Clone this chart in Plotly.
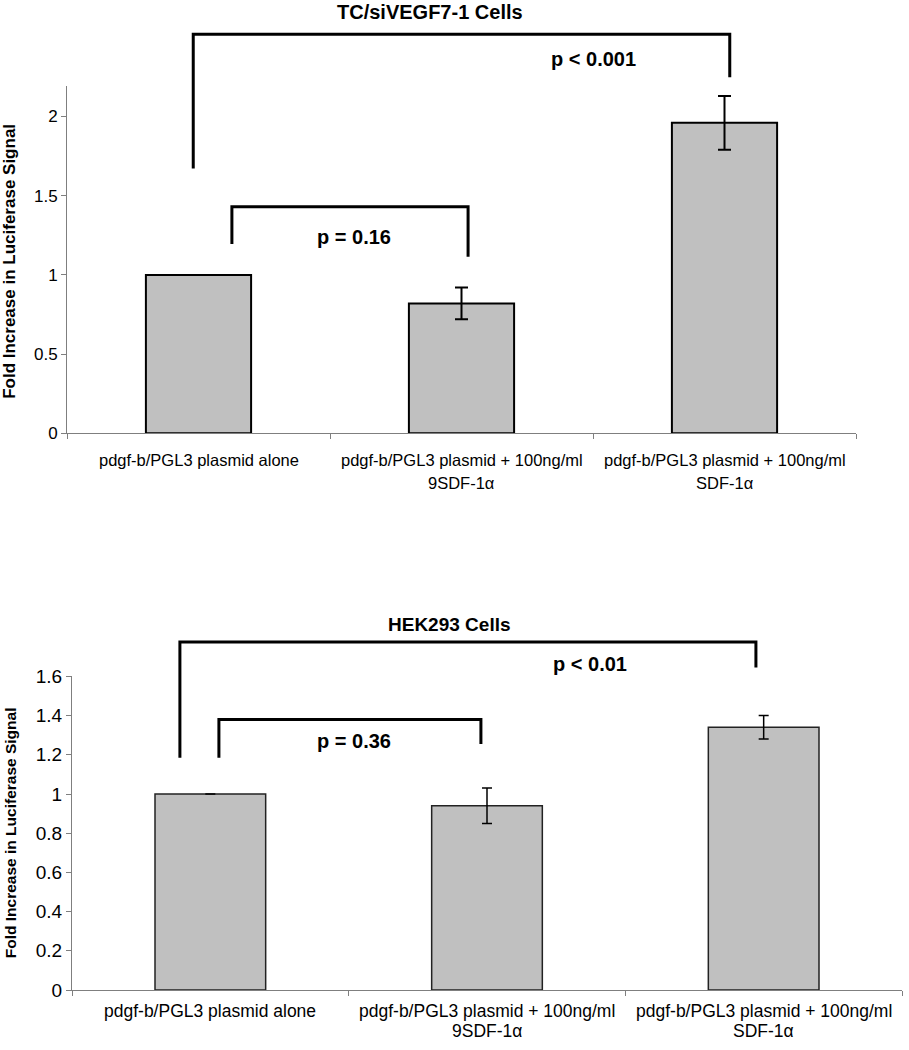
import plotly.graph_objects as go

# ---------------- data ----------------
cat_ids = ["c0", "c1", "c2"]
cat_line1 = ["pdgf-b/PGL3 plasmid alone",
             "pdgf-b/PGL3 plasmid + 100ng/ml",
             "pdgf-b/PGL3 plasmid + 100ng/ml"]
cat_line2 = ["", "9SDF-1α", "SDF-1α"]

top_values = [1.00, 0.82, 1.96]
top_errors = [0.0, 0.10, 0.17]
bottom_values = [1.00, 0.94, 1.34]
bottom_errors = [0.0, 0.09, 0.06]

top_ticks = [0, 0.5, 1, 1.5, 2]
top_ticktext = ["0", "0.5", "1", "1.5", "2"]
bottom_ticks = [0, 0.2, 0.4, 0.6, 0.8, 1.0, 1.2, 1.4, 1.6]
bottom_ticktext = ["0", "0.2", "0.4", "0.6", "0.8", "1", "1.2", "1.4", "1.6"]

top_title = "TC/siVEGF7-1 Cells"
bottom_title = "HEK293 Cells"
ytitle = "Fold Increase in Luciferase Signal"

# significance brackets: (x_left, x_right, y_bar, y_left_end, y_right_end) in category/data units
top_brackets = [(-0.02, 2.02, 2.52, 1.672, 2.248),
                (0.127, 1.025, 1.43, 1.195, 1.115)]
top_pvals = [("p < 0.001", 1.50, 2.365), ("p = 0.16", 0.59, 1.238)]
bottom_brackets = [(-0.11, 1.972, 1.775, 1.185, 1.645),
                   (0.031, 0.978, 1.38, 1.185, 1.255)]
bottom_pvals = [("p < 0.01", 1.372, 1.665), ("p = 0.36", 0.519, 1.27)]

# ---------------- layout geometry ----------------
W, H = 909, 1050
top_xdom = [67 / W, 856 / W]
top_ydom = [1 - 432 / H, 1 - 78 / H]
top_yrange = [0, 2.19]
bot_xdom = [72 / W, 902 / W]
bot_ydom = [1 - 1000 / H, 1 - 680 / H]
bot_yrange = [0, 1.6]


def to_paper(xc, yv, xdom, ydom, yr):
    px = xdom[0] + (xc + 0.5) / 3.0 * (xdom[1] - xdom[0])
    py = ydom[0] + (yv - yr[0]) / (yr[1] - yr[0]) * (ydom[1] - ydom[0])
    return px, py


fig = go.Figure()

fig.add_trace(go.Bar(
    x=cat_ids, y=top_values, width=0.4,
    marker=dict(color="#C0C0C0", line=dict(color="black", width=2)),
    error_y=dict(type="data", array=top_errors, color="black", thickness=2, width=6.5),
    xaxis="x", yaxis="y", showlegend=False, hoverinfo="skip"))

fig.add_trace(go.Bar(
    x=cat_ids, y=bottom_values, width=0.4,
    marker=dict(color="#C0C0C0", line=dict(color="#222222", width=1.5)),
    error_y=dict(type="data", array=bottom_errors, color="black", thickness=1.5, width=5),
    xaxis="x2", yaxis="y2", showlegend=False, hoverinfo="skip"))

axis_common = dict(showline=True, linecolor="#7f7f7f", linewidth=1, showgrid=False,
                   zeroline=False, ticks="outside", tickcolor="#7f7f7f", ticklen=5)

fig.update_layout(
    width=W, height=H, margin=dict(l=0, r=0, t=0, b=0),
    paper_bgcolor="white", plot_bgcolor="white",
    font=dict(family="Liberation Sans, Arial, sans-serif", color="black"),
    xaxis=dict(domain=top_xdom, anchor="y", type="category", range=[-0.5, 2.5],
               tickvals=cat_ids, tickson="boundaries", showticklabels=False, **axis_common),
    yaxis=dict(domain=top_ydom, anchor="x", range=top_yrange,
               tickvals=top_ticks, ticktext=top_ticktext,
               tickfont=dict(size=17), **axis_common),
    xaxis2=dict(domain=bot_xdom, anchor="y2", type="category", range=[-0.5, 2.5],
                tickvals=cat_ids, tickson="boundaries", showticklabels=False, **axis_common),
    yaxis2=dict(domain=bot_ydom, anchor="x2", range=bot_yrange,
                tickvals=bottom_ticks, ticktext=bottom_ticktext,
                tickfont=dict(size=19), **axis_common),
)

shapes = []
annotations = []


def add_brackets(brackets, xdom, ydom, yr):
    for (xl, xr, yb, yle, yre) in brackets:
        x0, y0 = to_paper(xl, yle, xdom, ydom, yr)
        _, yt = to_paper(xl, yb, xdom, ydom, yr)
        x1, y1 = to_paper(xr, yre, xdom, ydom, yr)
        path = f"M {x0} {y0} L {x0} {yt} L {x1} {yt} L {x1} {y1}"
        shapes.append(dict(type="path", path=path, xref="paper", yref="paper",
                           line=dict(color="black", width=3)))


def add_pvals(pvals, xdom, ydom, yr):
    for (txt, xc, yv) in pvals:
        px, py = to_paper(xc, yv, xdom, ydom, yr)
        annotations.append(dict(text=f"<b>{txt}</b>", x=px, y=py, xref="paper", yref="paper",
                                showarrow=False, xanchor="center", yanchor="middle",
                                font=dict(size=20)))


def add_catlabels(xref, y1px, y2px, size):
    for cid, l1, l2 in zip(cat_ids, cat_line1, cat_line2):
        annotations.append(dict(text=l1, x=cid, y=1 - y1px / H, xref=xref, yref="paper",
                                showarrow=False, xanchor="center", yanchor="middle",
                                font=dict(size=size)))
        if l2:
            annotations.append(dict(text=l2, x=cid, y=1 - y2px / H, xref=xref, yref="paper",
                                    showarrow=False, xanchor="center", yanchor="middle",
                                    font=dict(size=size)))


add_brackets(top_brackets, top_xdom, top_ydom, top_yrange)
add_brackets(bottom_brackets, bot_xdom, bot_ydom, bot_yrange)
add_pvals(top_pvals, top_xdom, top_ydom, top_yrange)
add_pvals(bottom_pvals, bot_xdom, bot_ydom, bot_yrange)
add_catlabels("x", 459, 483, 16.5)
add_catlabels("x2", 1021, 1042, 17.5)

# chart titles
tx, ty = to_paper(0.88, 2.66, top_xdom, top_ydom, top_yrange)
annotations.append(dict(text=f"<b>{top_title}</b>", x=tx, y=ty, xref="paper", yref="paper",
                        showarrow=False, xanchor="center", yanchor="middle",
                        font=dict(size=20)))
bx, by = to_paper(0.866, 1.865, bot_xdom, bot_ydom, bot_yrange)
annotations.append(dict(text=f"<b>{bottom_title}</b>", x=bx, y=by, xref="paper", yref="paper",
                        showarrow=False, xanchor="center", yanchor="middle",
                        font=dict(size=19)))

# y-axis titles
annotations.append(dict(text=f"<b>{ytitle}</b>", x=10 / W, y=1 - 257 / H,
                        xref="paper", yref="paper", showarrow=False, textangle=-90,
                        xanchor="center", yanchor="middle", font=dict(size=17)))
annotations.append(dict(text=f"<b>{ytitle}</b>", x=10 / W, y=1 - 840 / H,
                        xref="paper", yref="paper", showarrow=False, textangle=-90,
                        xanchor="center", yanchor="middle", font=dict(size=15.5)))

fig.update_layout(shapes=shapes, annotations=annotations)

fig.write_html("out.html", config={"displayModeBar": False},
               post_script="document.body.style.margin='0';")
